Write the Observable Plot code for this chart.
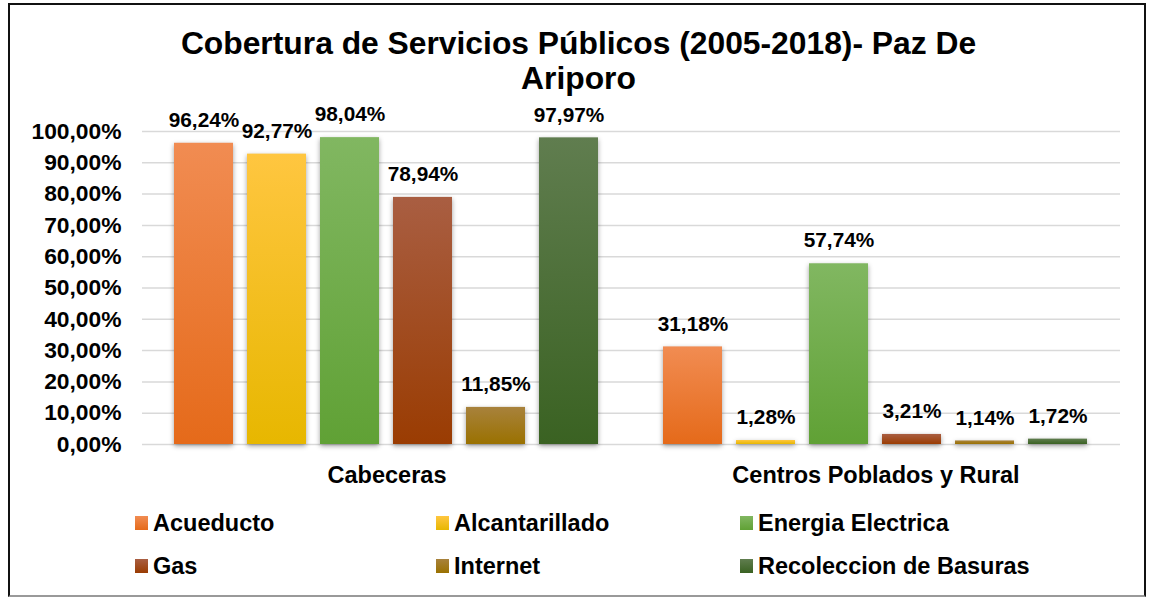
<!DOCTYPE html>
<html>
<head>
<meta charset="utf-8">
<script src="https://cdn.jsdelivr.net/npm/d3@7"></script>
<script src="https://cdn.jsdelivr.net/npm/@observablehq/plot@0.6"></script>
<style>
  html, body { margin: 0; padding: 0; background: #fff; }
  body { width: 1149px; height: 599px; position: relative; overflow: hidden;
         font-family: "Liberation Sans", Arial, sans-serif; }
  #frame { position: absolute; left: 8px; top: 3px; width: 1138px; height: 594px;
           border-left: 2px solid #111; border-top: 2px solid #111; border-right: 2px solid #111;
           border-bottom: 2px solid #999; box-sizing: border-box; }
  #title { position: absolute; left: 9px; width: 1139px; top: 26px; text-align: center;
           font-weight: bold; font-size: 31.8px; line-height: 35px; color: #000; }
  #chart { position: absolute; left: 0; top: 95px; }
  #chart g[aria-label="bar"] rect { filter: drop-shadow(0px 2px 2.5px rgba(0,0,0,0.38)); }
  .leg { position: absolute; display: flex; align-items: center; font-weight: bold;
         font-size: 23.5px; color: #000; white-space: nowrap; height: 30px; }
  .leg .sw { width: 13px; height: 14px; margin-right: 5px; }
</style>
</head>
<body>
<div id="frame"></div>
<div id="title">Cobertura de Servicios Públicos (2005-2018)- Paz De<br>Ariporo</div>
<div id="chart"></div>
<div id="legend"></div>
<script>
// ---- data ----
const categories = ["Cabeceras", "Centros Poblados y Rural"];
const services = ["Acueducto", "Alcantarillado", "Energia Electrica", "Gas", "Internet", "Recoleccion de Basuras"];
const cabecerasValues = [96.24, 92.77, 98.04, 78.94, 11.85, 97.97];
const centrosValues = [31.18, 1.28, 57.74, 3.21, 1.14, 1.72];
const yTicks = [0, 10, 20, 30, 40, 50, 60, 70, 80, 90, 100];

// ---- palette (gradient top / bottom) ----
const topColors = ["#F18C52", "#FFC640", "#81B761", "#A95E42", "#A8823C", "#607D4F"];
const bottomColors = ["#E56A1A", "#E7B700", "#60A135", "#9A3C02", "#9A7100", "#3A6222"];

const seriesValues = [cabecerasValues, centrosValues];
const data = [];
categories.forEach((c, ci) => {
  services.forEach((s, si) => {
    data.push({category: c, service: s, value: seriesValues[ci][si]});
  });
});

const fmt = v => v.toFixed(2).replace(".", ",") + "%";

const chart = Plot.plot({
  width: 1149,
  height: 395,
  marginLeft: 142,
  marginRight: 29,
  marginTop: 36,
  marginBottom: 46,
  style: {fontFamily: "'Liberation Sans', Arial, sans-serif", color: "#000", background: "transparent", overflow: "visible"},
  fx: {domain: categories, padding: 0, label: null},
  x: {domain: services, paddingInner: 0.19, paddingOuter: 0.4, axis: null},
  y: {domain: [0, 100], label: null},
  color: {domain: services, range: services.map((s, i) => `url(#grad${i})`)},
  marks: [
    Plot.gridY(yTicks, {stroke: "#d9d9d9", strokeOpacity: 1, strokeWidth: 1.5}),
    Plot.axisY(yTicks, {tickSize: 0, tickPadding: 21, tickFormat: fmt, fontSize: 22.8, fontWeight: "bold", label: null}),
    Plot.axisFx({anchor: "bottom", tickSize: 0, tickPadding: 22, fontSize: 23.5, fontWeight: "bold", label: null}),
    Plot.barY(data, {fx: "category", x: "service", y: "value", fill: "service"}),
    Plot.text(data, {fx: "category", x: "service", y: "value", text: d => fmt(d.value),
      lineAnchor: "middle", dy: -23, fontSize: 20.8, fontWeight: "bold", fill: "#000"})
  ]
});

// gradient defs
const ns = "http://www.w3.org/2000/svg";
const defs = document.createElementNS(ns, "defs");
services.forEach((s, i) => {
  const g = document.createElementNS(ns, "linearGradient");
  g.setAttribute("id", `grad${i}`);
  g.setAttribute("x1", "0"); g.setAttribute("y1", "0");
  g.setAttribute("x2", "0"); g.setAttribute("y2", "1");
  const s1 = document.createElementNS(ns, "stop");
  s1.setAttribute("offset", "0"); s1.setAttribute("stop-color", topColors[i]);
  const s2 = document.createElementNS(ns, "stop");
  s2.setAttribute("offset", "1"); s2.setAttribute("stop-color", bottomColors[i]);
  g.appendChild(s1); g.appendChild(s2);
  defs.appendChild(g);
});
chart.insertBefore(defs, chart.firstChild);
document.getElementById("chart").appendChild(chart);

// legend
const legendCols = [135, 436, 740];
const legendRows = [508, 551];
const legend = document.getElementById("legend");
services.forEach((s, i) => {
  const item = document.createElement("div");
  item.className = "leg";
  item.style.left = legendCols[i % 3] + "px";
  item.style.top = legendRows[Math.floor(i / 3)] + "px";
  const sw = document.createElement("div");
  sw.className = "sw";
  sw.style.background = `linear-gradient(${topColors[i]}, ${bottomColors[i]})`;
  const t = document.createElement("span");
  t.textContent = s;
  item.appendChild(sw); item.appendChild(t);
  legend.appendChild(item);
});
</script>
</body>
</html>
